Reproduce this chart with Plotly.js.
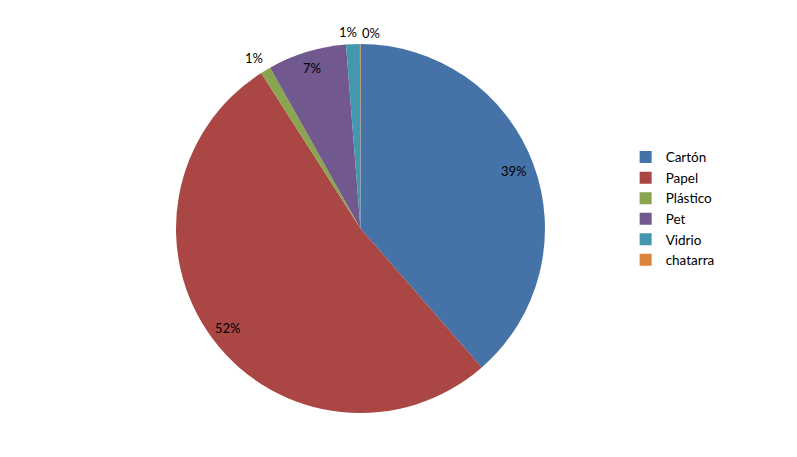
<!DOCTYPE html>
<html>
<head>
<meta charset="utf-8">
<script src="https://cdn.plot.ly/plotly-3.0.1.min.js"></script>
<style>html,body{margin:0;padding:0;background:#fff;}#chart{width:797px;height:457px;}</style>
</head>
<body>
<div id="chart"></div>
<script>
const categories = ["Cartón", "Papel", "Plástico", "Pet", "Vidrio", "chatarra"];
const values = [38.6, 52.4, 0.9, 6.9, 1.2, 0.05];
const colors = ["#4572A7", "#AA4643", "#89A54E", "#71588F", "#4198AF", "#DB843D"];
// label placement style: radius as a fraction of the pie radius, and a small horizontal nudge (px)
const labelRadius = [0.89, 0.9, 1.08, 0.91, 1.065, 1.06];
const labelNudge = [0, 0, -4, 0, -4, 11];

const W = 797, H = 457;
const domX = [0.2208, 0.6838], domY = [0.0963, 0.9037];
const FONT = "Lato, 'Liberation Sans', sans-serif";

const trace = {
  type: "pie",
  labels: categories,
  values: values,
  sort: false,
  direction: "clockwise",
  rotation: 0,
  marker: {colors: colors, line: {width: 0}},
  textinfo: "none",
  hoverinfo: "none",
  automargin: false,
  domain: {x: domX, y: domY}
};

// percent labels placed along each slice's mid angle, derived from the values
const total = values.reduce((a, b) => a + b, 0);
const cx = (domX[0] + domX[1]) / 2 * W;
const cy = (1 - (domY[0] + domY[1]) / 2) * H;
const R = Math.min((domX[1] - domX[0]) * W, (domY[1] - domY[0]) * H) / 2;
let cum = 0;
const annotations = values.map((v, i) => {
  const mid = (cum + v / 2) / total * 2 * Math.PI;
  cum += v;
  const px = cx + R * labelRadius[i] * Math.sin(mid) + labelNudge[i];
  const py = cy - R * labelRadius[i] * Math.cos(mid);
  return {
    x: px / W, y: 1 - py / H, xref: "paper", yref: "paper",
    xanchor: "center", yanchor: "middle", showarrow: false,
    text: Math.round(v / total * 100) + "%",
    font: {family: FONT, size: 13, color: "#000"}
  };
});

const layout = {
  width: W, height: H,
  margin: {l: 0, r: 0, t: 0, b: 0},
  paper_bgcolor: "#fff",
  showlegend: true,
  annotations: annotations,
  legend: {
    x: 0.785, xanchor: "left", y: 0.543, yanchor: "middle",
    font: {family: FONT, size: 13.5, color: "#000"},
    traceorder: "normal",
    tracegroupgap: 0
  }
};

Plotly.newPlot("chart", [trace], layout, {displayModeBar: false, staticPlot: true});
</script>
</body>
</html>
